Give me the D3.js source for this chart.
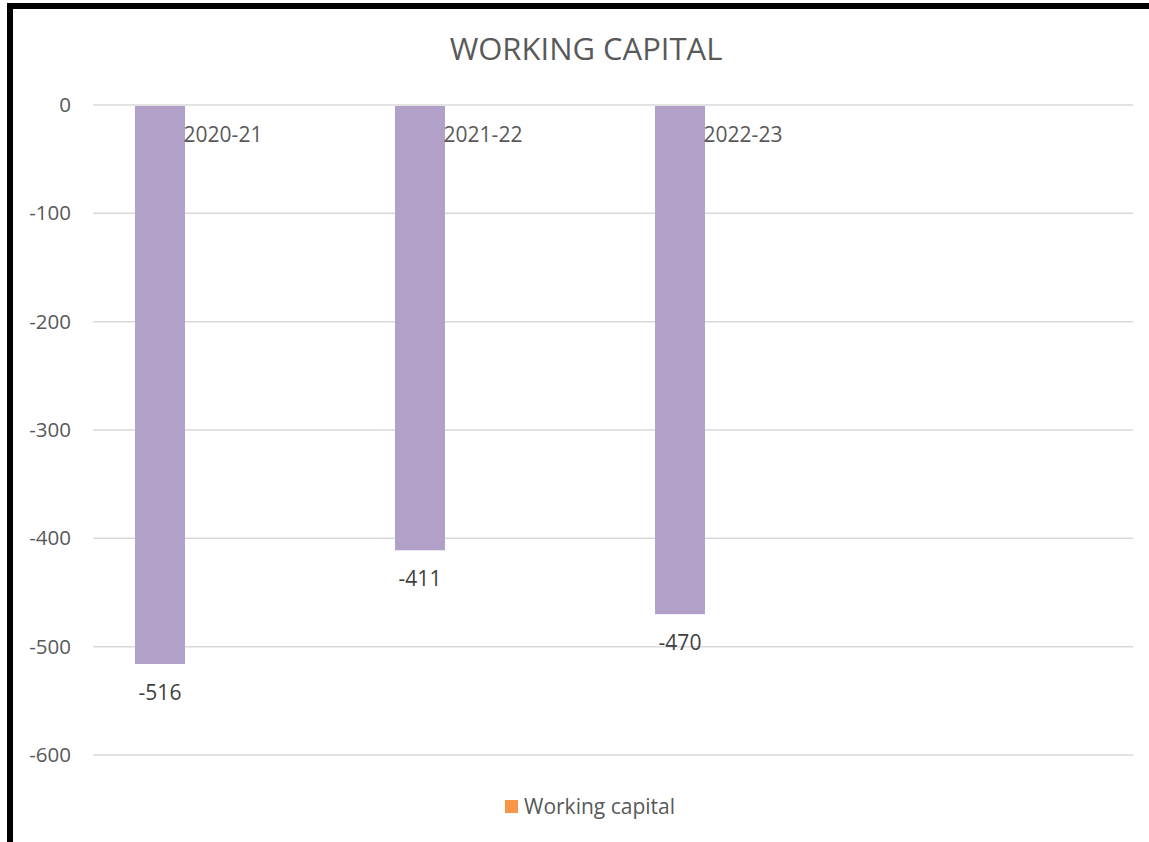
<!DOCTYPE html>
<html>
<head>
<meta charset="utf-8">
<script src="https://cdn.jsdelivr.net/npm/d3@7"></script>
<style>
  html, body { margin: 0; padding: 0; background: #fff; }
  svg { display: block; }
  text { font-family: "Open Sans", "Noto Sans", sans-serif; fill: #595959; }
</style>
</head>
<body>
<svg id="chart" width="1149" height="842"></svg>
<script>
// Working capital by financial year (the fourth slot is an empty category)
const categories = ["2020-21", "2021-22", "2022-23", ""];
const workingCapital = [-516, -411, -470, null];
const yTicks = [0, -100, -200, -300, -400, -500, -600];
const seriesName = "Working capital";

const svg = d3.select("#chart");
const W = 1149, H = 842;

// frame: heavy rule along the top and left edges
svg.append("rect").attr("x", 7).attr("y", 3).attr("width", W - 7).attr("height", 6).attr("fill", "#000");
svg.append("rect").attr("x", 7).attr("y", 3).attr("width", 6).attr("height", H - 3).attr("fill", "#000");

const plot = { left: 93, right: 1133, top: 105, bottom: 755 };

const x = d3.scaleBand().domain(d3.range(categories.length)).range([plot.left, plot.right]);
const y = d3.scaleLinear().domain([0, -600]).range([plot.top, plot.bottom]);

// gridlines
svg.append("g").selectAll("line").data(yTicks).join("line")
  .attr("x1", plot.left).attr("x2", plot.right)
  .attr("y1", d => y(d)).attr("y2", d => y(d))
  .attr("stroke", "#d9d9d9").attr("stroke-width", 1.5);

// value axis labels (plain hyphen for negatives)
const yAxis = d3.axisLeft(y).tickValues(yTicks).tickSize(0).tickPadding(0).tickFormat(d => String(d));
const yg = svg.append("g").attr("transform", `translate(71,0)`).call(yAxis);
yg.select(".domain").remove();
yg.selectAll("text").attr("font-size", 20.5).attr("fill", "#595959")
  .style("font-family", "'Open Sans', sans-serif");

// bars: first slot of each cluster
const barW = 50, barOffset = 42;
svg.append("g").selectAll("rect").data(workingCapital.map((v, i) => ({ v, i })).filter(d => d.v !== null)).join("rect")
  .attr("x", d => x(d.i) + barOffset)
  .attr("width", barW)
  .attr("y", y(0) + 1)
  .attr("height", d => y(d.v) - y(0) - 1)
  .attr("fill", "#b1a0c7");

// category labels sit just under the zero line, centred on each band
svg.append("g").selectAll("text").data(categories).join("text")
  .attr("x", (d, i) => x(i) + x.bandwidth() / 2)
  .attr("y", y(0) + 37)
  .attr("text-anchor", "middle")
  .attr("font-size", 21)
  .text(d => d);

// data labels below each bar end
svg.append("g").selectAll("text").data(workingCapital.map((v, i) => ({ v, i })).filter(d => d.v !== null)).join("text")
  .attr("x", d => x(d.i) + barOffset + barW / 2)
  .attr("y", d => y(d.v) + 36)
  .attr("text-anchor", "middle")
  .attr("font-size", 21)
  .style("fill", "#404040")
  .text(d => d.v);

// title
svg.append("text").attr("x", 586).attr("y", 60).attr("text-anchor", "middle")
  .attr("font-size", 31).text("WORKING CAPITAL");

// legend
const lg = svg.append("g");
lg.append("rect").attr("x", 505).attr("y", 800).attr("width", 13).attr("height", 13).attr("fill", "#f79646");
lg.append("text").attr("x", 524).attr("y", 814).attr("font-size", 21).text(seriesName);
</script>
</body>
</html>
